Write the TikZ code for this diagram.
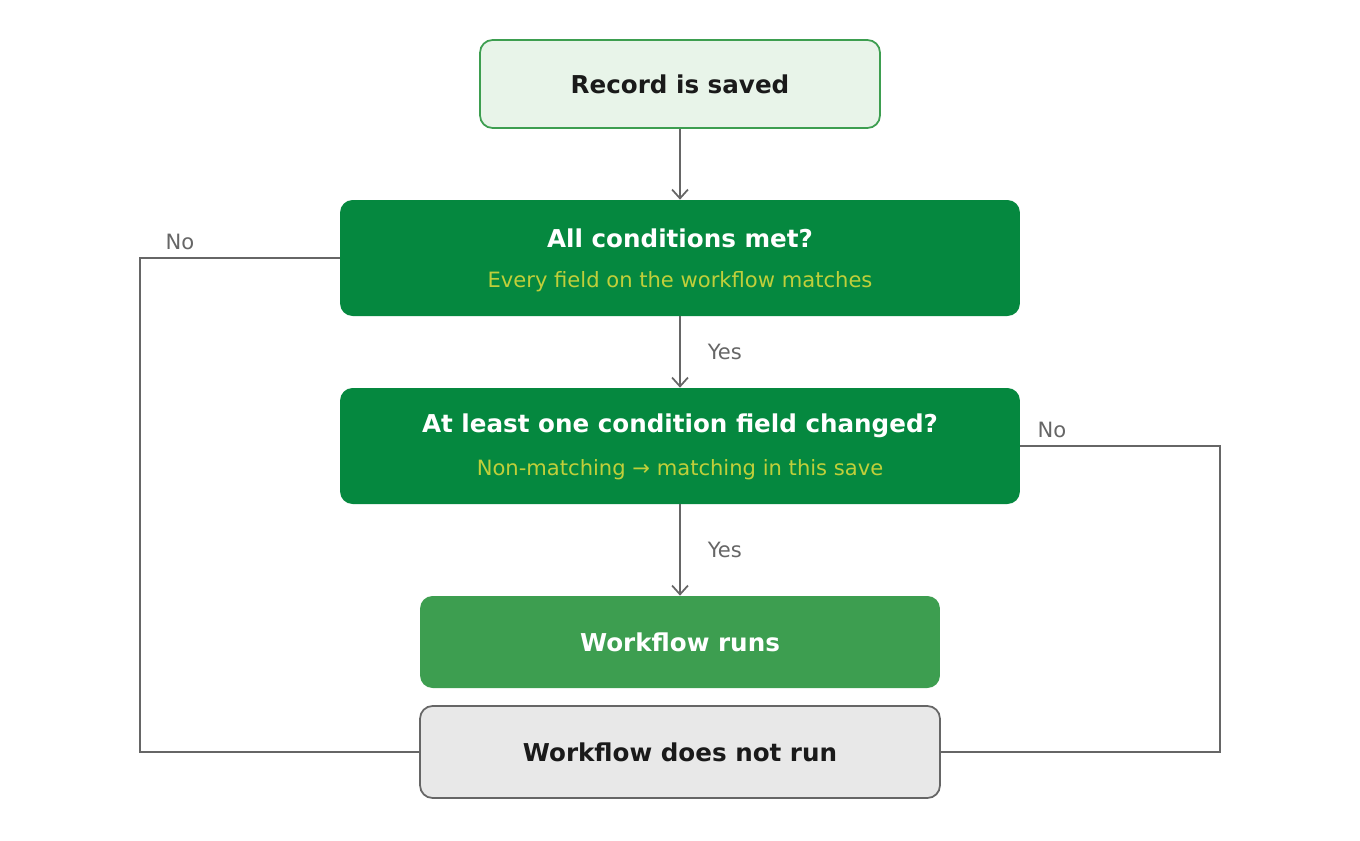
\documentclass[tikz,border=0pt]{standalone}
\usepackage{fontspec}
\setmainfont{DejaVu Sans}
\usetikzlibrary{positioning,arrows.meta}
\definecolor{darkgreen}{HTML}{05883F}
\definecolor{midgreen}{HTML}{3D9E50}
\definecolor{palegreen}{HTML}{E8F4E9}
\definecolor{limetext}{HTML}{C0CF3A}
\definecolor{greyline}{HTML}{666666}
\definecolor{greyfill}{HTML}{E8E8E8}
\definecolor{inktext}{HTML}{1A1A1A}
\begin{document}
\begin{tikzpicture}[x=0.02cm,y=-0.02cm,
	box/.style={rounded corners=0.25cm, inner sep=0pt, align=center},
	title/.style={font=\bfseries\fontsize{14}{16}\selectfont},
	sub/.style={font=\fontsize{12}{14}\selectfont, text=limetext},
	flow/.style={draw=greyline, line width=1pt, -{Straight Barb[length=5pt,width=9pt,line width=1pt]}},
	back/.style={draw=greyline, line width=1pt},
	lbl/.style={text=greyline, font=\fontsize{12}{14}\selectfont}]
	\useasboundingbox (0,0) rectangle (1360,840);
	% boxes
	\node[box, fill=palegreen, draw=midgreen, line width=1pt, minimum width=8cm, minimum height=1.76cm, title, text=inktext] (saved) at (680,84) {Record is saved};
	\node[box, fill=darkgreen, minimum width=13.6cm, minimum height=2.32cm] (cond) at (680,258) {};
	\node[title, text=white] at (680,238) {All conditions met?};
	\node[sub] at (680,282) {Every field on the workflow matches};
	\node[box, fill=darkgreen, minimum width=13.6cm, minimum height=2.32cm] (change) at (680,446) {};
	\node[title, text=white] at (680,426) {At least one condition field changed?};
	\node[sub] at (680,470) {Non-matching → matching in this save};
	\node[box, fill=midgreen, minimum width=10.4cm, minimum height=1.84cm, title, text=white] (runs) at (680,642) {Workflow runs};
	\node[box, fill=greyfill, draw=greyline, line width=1pt, minimum width=10.4cm, minimum height=1.84cm, title, text=inktext] (norun) at (680,752) {Workflow does not run};
	% connectors
	\draw[flow] (saved) -- (cond);
	\draw[flow] (cond) -- node[lbl, right=12pt] {Yes} (change);
	\draw[flow] (change) -- node[lbl, right=12pt] {Yes} (runs);
	\coordinate (lefttop) at (140,258);
	\coordinate (rightend) at (1220,446);
	\draw[back] (cond.west) -- (lefttop) |- (norun.west);
	\draw[back] (change.east) -- (rightend) |- (norun.east);
	\node[lbl] at (180,242) {No};
	\node[lbl] at (1052,430) {No};
\end{tikzpicture}
\end{document}
